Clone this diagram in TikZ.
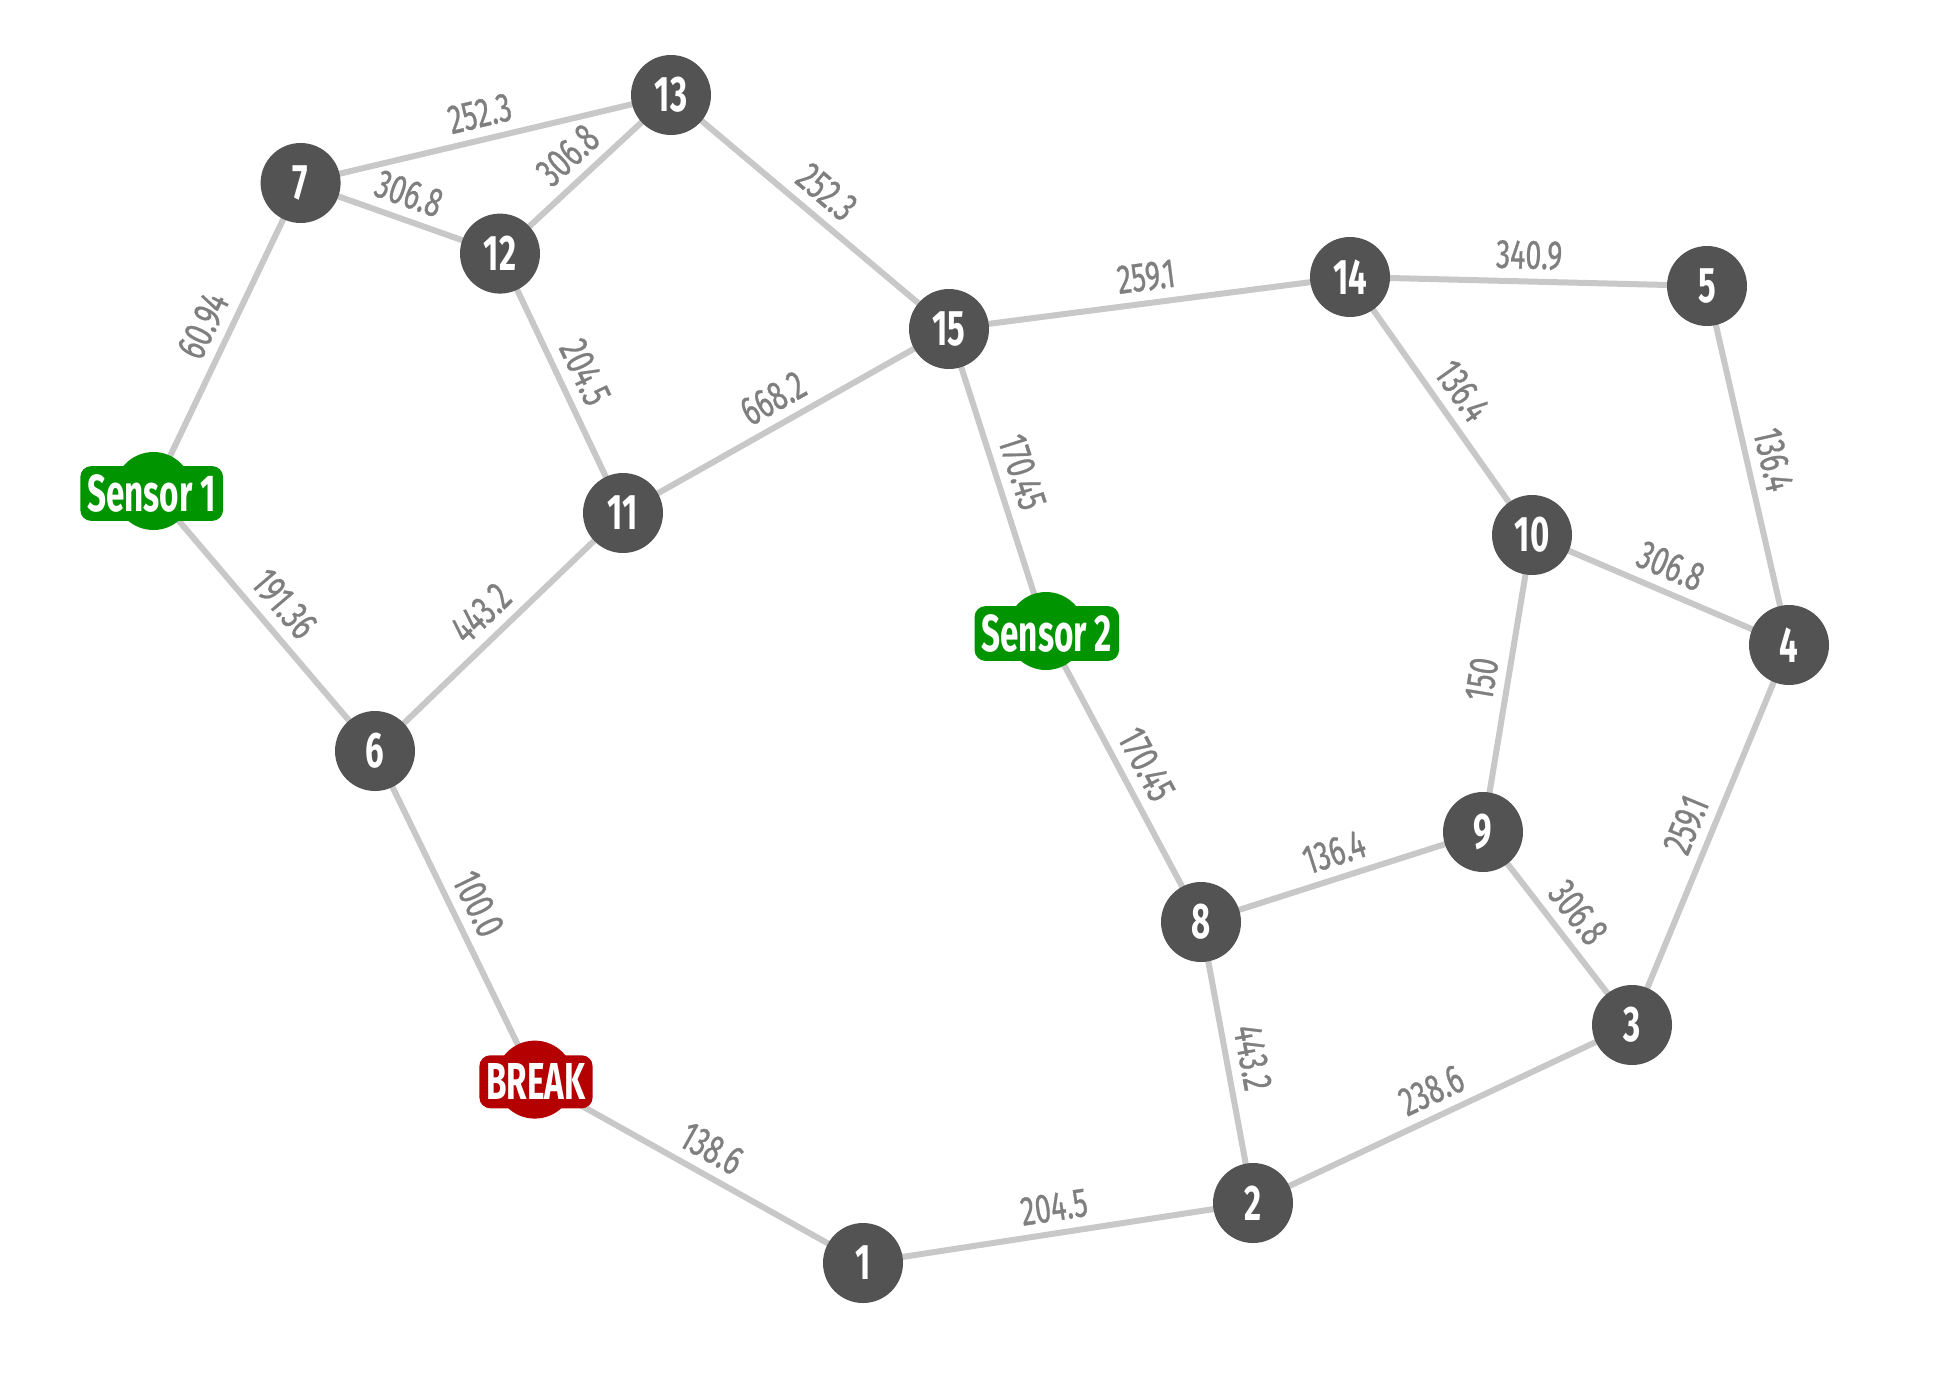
\documentclass[tikz,border=0pt]{standalone}
\usepackage{fontspec}
\usepackage{graphicx}
\setmainfont{Fira Sans}
\newfontfamily\labfont{Fira Sans}[FakeBold=0.8]
\newfontfamily\numfont{Fira Sans}
\newcommand\narlab[1]{\scalebox{0.70}[1]{#1}}
\newcommand\narnum[1]{\scalebox{0.66}[1]{#1}}
\newcommand\nartag[1]{\scalebox{0.64}[1]{#1}}
\usetikzlibrary{backgrounds}
\definecolor{nodegray}{HTML}{535353}
\definecolor{edgegray}{HTML}{C8C8C8}
\definecolor{labgray}{HTML}{7F7F7F}
\definecolor{sgreen}{HTML}{009400}
\definecolor{bred}{HTML}{B40000}
\tikzset{
 vert/.style={circle, fill=nodegray, minimum size=80pt, inner sep=0pt, text=white,
   font=\numfont\bfseries\fontsize{50}{60}\selectfont},
 blob/.style={circle, fill=#1, minimum size=78pt, inner sep=0pt},
 tagbox/.style={rectangle, rounded corners=11pt, fill=#1, text=white, inner xsep=7pt,
   inner ysep=8.5pt, font=\numfont\bfseries\fontsize{52}{60}\selectfont},
 link/.style={draw=edgegray, line width=6pt},
 wt/.style={sloped, above, inner sep=9pt, text=labgray,
   font=\labfont\fontsize{41}{48}\selectfont},
}
\begin{document}
\begin{tikzpicture}[x=1pt,y=-1pt]
\useasboundingbox (0,0) rectangle (1940,1393);
% vertices
\node[vert] (n1) at (863,1263) {\narnum{1}};
\node[vert] (n2) at (1253,1203) {\narnum{2}};
\node[vert] (n3) at (1632,1025) {\narnum{3}};
\node[vert] (n4) at (1789,645) {\narnum{4}};
\node[vert] (n5) at (1707,286) {\narnum{5}};
\node[vert] (n6) at (375,751) {\narnum{6}};
\node[vert] (n7) at (300.6,183) {\narnum{7}};
\node[vert] (n8) at (1201,922) {\narnum{8}};
\node[vert] (n9) at (1483,832) {\narnum{9}};
\node[vert] (n10) at (1532,535) {\narnum{10}};
\node[vert] (n11) at (623,513) {\narnum{11}};
\node[vert] (n12) at (500,253.6) {\narnum{12}};
\node[vert] (n13) at (671,95) {\narnum{13}};
\node[vert] (n14) at (1350,277) {\narnum{14}};
\node[vert] (n15) at (949,329) {\narnum{15}};
% sensors and break
\node[blob=sgreen] (s1c) at (153.4,491) {};
\node[tagbox=sgreen] (s1) at (151.7,493.5) {\nartag{Sensor 1}};
\node[blob=sgreen] (s2c) at (1046,631) {};
\node[tagbox=sgreen] (s2) at (1046.8,633.5) {\nartag{Sensor 2}};
\node[blob=bred] (brc) at (534.8,1079.6) {};
\node[tagbox=bred] (br) at (536,1081.8) {\nartag{BREAK}};
\begin{pgfonlayer}{background}
\fill[white] (0,0) rectangle (1940,1393);
\draw[link] (n7.center) -- node[wt]{\narlab{252.3}} (n13.center);
\draw[link] (n7.center) -- node[wt]{\narlab{306.8}} (n12.center);
\draw[link] (n12.center) -- node[wt]{\narlab{306.8}} (n13.center);
\draw[link] (n13.center) -- node[wt]{\narlab{252.3}} (n15.center);
\draw[link] (s1c.center) -- node[wt]{\narlab{60.94}} (n7.center);
\draw[link] (n12.center) -- node[wt]{\narlab{204.5}} (n11.center);
\draw[link] (n11.center) -- node[wt]{\narlab{668.2}} (n15.center);
\draw[link] (n15.center) -- node[wt]{\narlab{259.1}} (n14.center);
\draw[link] (n14.center) -- node[wt]{\narlab{340.9}} (n5.center);
\draw[link] (n14.center) -- node[wt]{\narlab{136.4}} (n10.center);
\draw[link] (n5.center) -- node[wt]{\narlab{136.4}} (n4.center);
\draw[link] (n10.center) -- node[wt]{\narlab{306.8}} (n4.center);
\draw[link] (n15.center) -- node[wt]{\narlab{170.45}} (s2c.center);
\draw[link] (s1c.center) -- node[wt]{\narlab{191.36}} (n6.center);
\draw[link] (n6.center) -- node[wt]{\narlab{443.2}} (n11.center);
\draw[link] (s2c.center) -- node[wt]{\narlab{170.45}} (n8.center);
\draw[link] (n10.center) -- node[wt]{\narlab{150}} (n9.center);
\draw[link] (n8.center) -- node[wt]{\narlab{136.4}} (n9.center);
\draw[link] (n9.center) -- node[wt]{\narlab{306.8}} (n3.center);
\draw[link] (n3.center) -- node[wt]{\narlab{259.1}} (n4.center);
\draw[link] (n6.center) -- node[wt]{\narlab{100.0}} (brc.center);
\draw[link] (n8.center) -- node[wt]{\narlab{443.2}} (n2.center);
\draw[link] (n2.center) -- node[wt]{\narlab{238.6}} (n3.center);
\draw[link] (brc.center) -- node[wt]{\narlab{138.6}} (n1.center);
\draw[link] (n1.center) -- node[wt]{\narlab{204.5}} (n2.center);
\end{pgfonlayer}
\end{tikzpicture}
\end{document}
